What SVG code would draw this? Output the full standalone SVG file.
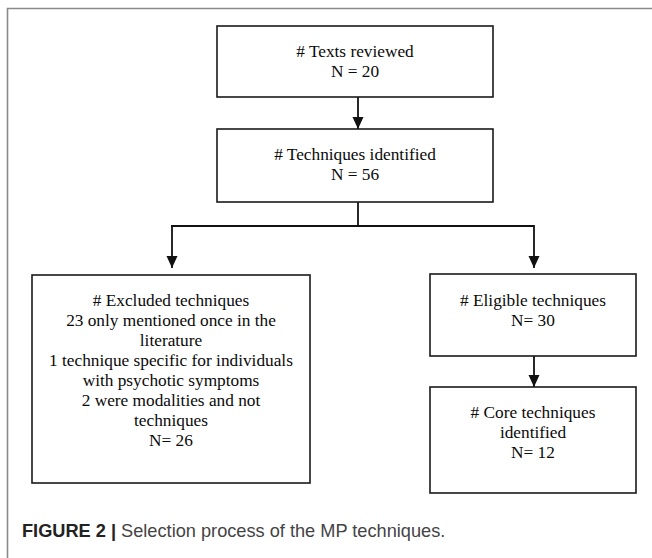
<svg xmlns="http://www.w3.org/2000/svg" width="652" height="558" viewBox="0 0 652 558">
<style>
.box{fill:#fff;stroke:#1a1a1a;stroke-width:1.6}
.t{font-family:'Liberation Serif','Times New Roman','DejaVu Serif',serif;font-size:17.3px;fill:#0a0a0a;text-anchor:middle}
.c{fill:none;stroke:#111;stroke-width:1.8}
.frame{fill:none;stroke:#8a8a8a;stroke-width:1.6}
.cap{font-family:'Liberation Sans',Arial,sans-serif;font-size:18.2px;fill:#444}
</style>
<defs>
<marker id="ah" markerUnits="userSpaceOnUse" markerWidth="12" markerHeight="12" refX="12" refY="6" orient="auto">
<path d="M0,0.5 L12,6 L0,11.5 Z" fill="#111"/>
</marker>
</defs>
<rect width="652" height="558" fill="#fff"/>
<path class="frame" d="M7.5,558 V8.5 H652"/>
<g id="connectors">
<line class="c" x1="358" y1="97" x2="358" y2="129" marker-end="url(#ah)"/>
<line class="c" x1="358" y1="197" x2="358" y2="226"/>
<line class="c" x1="171" y1="226" x2="534" y2="226"/>
<line class="c" x1="172" y1="225.1" x2="172" y2="268" marker-end="url(#ah)"/>
<line class="c" x1="534" y1="225.1" x2="534" y2="268" marker-end="url(#ah)"/>
<line class="c" x1="534" y1="356" x2="534" y2="387" marker-end="url(#ah)"/>
</g>
<g id="texts-reviewed">
<rect class="box" x="217" y="26" width="276" height="71"/>
<text class="t" x="355" y="57"># Texts reviewed</text>
<text class="t" x="355" y="77">N = 20</text>
</g>
<g id="techniques-identified">
<rect class="box" x="217" y="129" width="276" height="73"/>
<text class="t" x="355" y="160"># Techniques identified</text>
<text class="t" x="355" y="180">N = 56</text>
</g>
<g id="excluded">
<rect class="box" x="32" y="275" width="278" height="208"/>
<text class="t" x="171" y="306"># Excluded techniques</text>
<text class="t" x="171" y="326">23 only mentioned once in the</text>
<text class="t" x="171" y="346">literature</text>
<text class="t" x="171" y="366">1 technique specific for individuals</text>
<text class="t" x="171" y="386">with psychotic symptoms</text>
<text class="t" x="171" y="406">2 were modalities and not</text>
<text class="t" x="171" y="426">techniques</text>
<text class="t" x="171" y="446">N= 26</text>
</g>
<g id="eligible">
<rect class="box" x="430" y="274" width="206" height="82"/>
<text class="t" x="533" y="306"># Eligible techniques</text>
<text class="t" x="533" y="326">N= 30</text>
</g>
<g id="core">
<rect class="box" x="430" y="387" width="206" height="106"/>
<text class="t" x="533" y="418"># Core techniques</text>
<text class="t" x="533" y="438">identified</text>
<text class="t" x="533" y="458">N= 12</text>
</g>
<text class="cap" x="22" y="537"><tspan font-weight="bold" fill="#222">FIGURE 2 |</tspan> Selection process of the MP techniques.</text>
</svg>
